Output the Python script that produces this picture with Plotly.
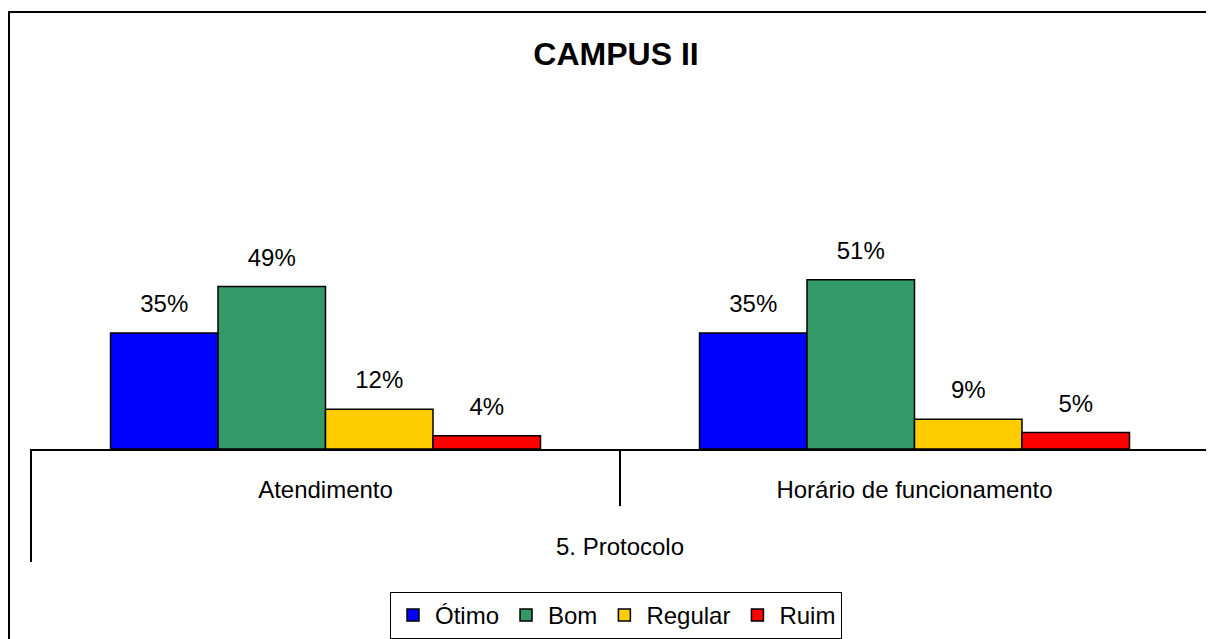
import plotly.graph_objects as go

# Chart data
group_label = "5. Protocolo"
categories = ["Atendimento", "Horário de funcionamento"]
series_names = ["Ótimo", "Bom", "Regular", "Ruim"]
otimo = [35, 35]
bom = [49, 51]
regular = [12, 9]
ruim = [4, 5]

colors = ["#0000FF", "#339966", "#FFCC00", "#FF0000"]
FONT = "Arial, Liberation Sans, sans-serif"

# the page body has an 8px margin, so the figure is drawn 8px in from the corner
W, H = 1206, 631
left, right = 23, 1201
top, bottom = 242, 441
ph = bottom - top

fig = go.Figure()
for name, vals, col in zip(series_names, [otimo, bom, regular, ruim], colors):
    fig.add_trace(go.Bar(
        x=categories,
        y=vals,
        name=name,
        offsetgroup=name,
        marker=dict(color=col, line=dict(color="black", width=1.5)),
        hoverinfo="x+y+name",
    ))
# value labels, lifted above the bars
for name, vals in zip(series_names, [otimo, bom, regular, ruim]):
    fig.add_trace(go.Scatter(
        x=categories,
        y=vals,
        mode="markers+text",
        offsetgroup=name,
        text=[f"{v}%" for v in vals],
        textposition="top center",
        textfont=dict(size=24, color="black", family=FONT),
        marker=dict(size=22, opacity=0),
        showlegend=False,
        hoverinfo="skip",
        cliponaxis=False,
    ))


def vline(x, y_px):
    # axis divider line from the axis down to a pixel depth
    return dict(type="line", xref="x domain", yref="paper",
                x0=x, x1=x, y0=0, y1=-(y_px - bottom) / ph,
                line=dict(color="black", width=2))


fig.update_layout(
    width=W, height=H,
    template="none",
    paper_bgcolor="white",
    plot_bgcolor="white",
    font=dict(family=FONT, size=24, color="black"),
    barmode="group",
    bargap=0.27,
    bargroupgap=0,
    scattermode="group",
    scattergap=0.27,
    margin=dict(l=left, r=W - right, t=top, b=H - bottom, autoexpand=False),
    title=dict(text="<b>CAMPUS II</b>", font=dict(size=32, family=FONT, color="black"),
               x=608 / W, xanchor="center", xref="container",
               y=1 - 46 / H, yanchor="middle", yref="container"),
    xaxis=dict(
        type="category",
        showline=True, linecolor="black", linewidth=2,
        showgrid=False, automargin=False,
        ticks="", ticklabelstandoff=18,
        tickfont=dict(size=24, family=FONT, color="black"),
        title=dict(text=group_label, standoff=36,
                   font=dict(size=24, family=FONT, color="black")),
    ),
    yaxis=dict(range=[0, 60], visible=False, showgrid=False, zeroline=False),
    legend=dict(
        orientation="h",
        xref="container", yref="container",
        x=608 / W, xanchor="center",
        y=1 - 584 / H, yanchor="top",
        bordercolor="black", borderwidth=1,
        itemwidth=34,
        font=dict(size=24, family=FONT, color="black"),
        bgcolor="white",
    ),
    showlegend=True,
    shapes=[
        vline(0, 554),
        vline(0.5, 498),
        vline(1, 554),
        # outer chart frame (left and top edges visible)
        dict(type="rect", xref="paper", yref="paper",
             x0=(1 - left) / (right - left), x1=(1230 - left) / (right - left),
             y0=(bottom - 660) / ph, y1=(bottom - 4) / ph,
             line=dict(color="black", width=2), layer="below"),
    ],
)

fig.write_html("out.html")
